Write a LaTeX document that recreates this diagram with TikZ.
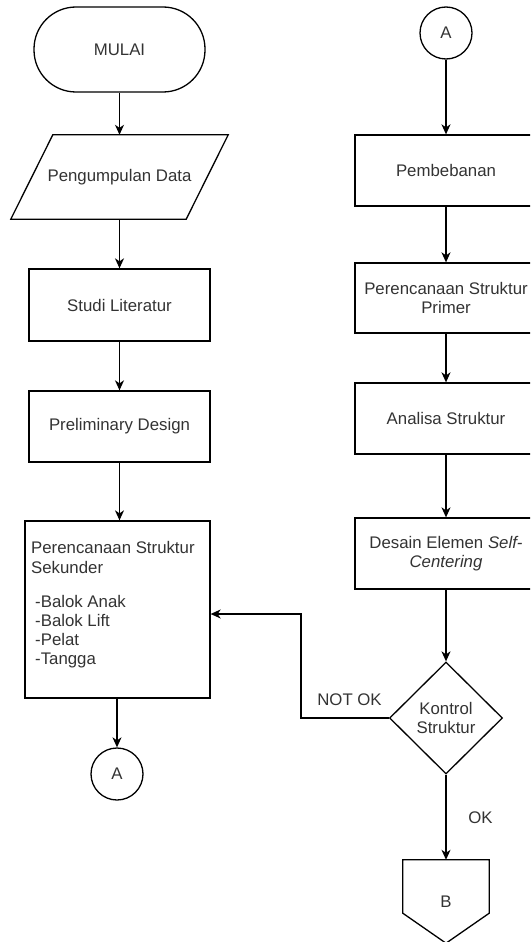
\documentclass[tikz,border=0pt]{standalone}
\usepackage{fontspec}
\setmainfont{Liberation Sans}
\usetikzlibrary{arrows.meta,shapes.geometric,calc}
\definecolor{txt}{HTML}{333333}
\begin{document}
\begin{tikzpicture}[x=1pt,y=-1pt,
  every node/.style={font=\fontsize{16.8pt}{19.5pt}\selectfont, text=txt},
  proc/.style={draw, line width=1.3pt, minimum width=182pt, minimum height=71pt, align=center, inner sep=0pt},
  conn/.style={draw, circle, line width=1.3pt, minimum size=52pt, inner sep=0pt},
  arr/.style={line width=1.3pt, -{Stealth[length=10pt,width=9pt,inset=3pt]}},
  lbl/.style={inner sep=0pt}
]
\useasboundingbox (0,0) rectangle (530,942);
\clip (0,0) rectangle (530,942);

% left column
\node[draw, line width=1.3pt, rounded corners=42pt, minimum width=171pt, minimum height=85pt] (mulai) at (119.5,49.5) {MULAI};
\node[minimum width=175pt, minimum height=84pt, inner sep=0pt] (pd) at (119.5,177) {Pengumpulan Data};
\draw[line width=1.3pt] ($(pd.north west)+(21,0)$) -- ($(pd.north east)+(21,0)$) -- ($(pd.south east)+(-21,0)$) -- ($(pd.south west)+(-21,0)$) -- cycle;
\node[proc, minimum width=181pt, minimum height=72pt] (studi) at (119.5,305) {Studi Literatur};
\node[proc, minimum width=181pt, minimum height=71pt] (pre) at (119.5,426.5) {Preliminary Design};
\node[draw, line width=1.3pt, minimum width=185pt, minimum height=177pt] (sek) at (117.5,609.5) {};
\node[anchor=north west, align=left, inner sep=0pt, font=\fontsize{16.8pt}{19pt}\selectfont] (sektxt) at (31,541) {Perencanaan Struktur\\[1pt]Sekunder\\[15pt]\hspace*{4pt}-Balok Anak\\\hspace*{4pt}-Balok Lift\\\hspace*{4pt}-Pelat\\\hspace*{4pt}-Tangga};
\node[conn] (a1) at (117,774) {A};

% right column
\node[conn] (a2) at (446,33) {A};
\node[proc] (pemb) at (446,170.5) {Pembebanan};
\node[proc, minimum height=70pt] (prim) at (446,298) {Perencanaan Struktur\\Primer};
\node[proc] (anal) at (446,418.5) {Analisa Struktur};
\node[proc] (des) at (446,553.5) {Desain Elemen \textit{Self-}\\\textit{Centering}};
\node[diamond, draw, line width=1.3pt, minimum width=113pt, minimum height=112pt, inner sep=0pt, aspect=1, align=center] (kon) at (446,718) {Kontrol\\Struktur};
\node[minimum width=86pt, minimum height=83pt, inner sep=0pt] (B) at (446,901.5) {B};
\draw[line width=1.3pt] (B.north west) -- (B.north east) -- ($(B.south east)+(0,-30)$) -- (B.south) -- ($(B.south west)+(0,-30)$) -- cycle;

% connectors
\draw[arr] (mulai.south) -- (pd.north);
\draw[arr] (pd.south) -- (studi.north);
\draw[arr] (studi.south) -- (pre.north);
\draw[arr] (pre.south) -- (pre.south |- sek.north);
\draw[arr] (a1.north |- sek.south) -- (a1.north);
\draw[arr] (a2.south) -- (pemb.north);
\draw[arr] (pemb.south) -- (prim.north);
\draw[arr] (prim.south) -- (anal.north);
\draw[arr] (anal.south) -- (des.north);
\draw[arr] (des.south) -- (kon.north);
\draw[arr] (kon.south) -- node[lbl, pos=0.5, xshift=34.5pt] (oklbl) {OK} (B.north);
\coordinate (nk) at (301,614);
\draw[arr] (kon.west) -| (nk) -- (sek.east |- nk);
\node[lbl] (notok) at (349.5,700) {NOT OK};
\end{tikzpicture}
\end{document}
